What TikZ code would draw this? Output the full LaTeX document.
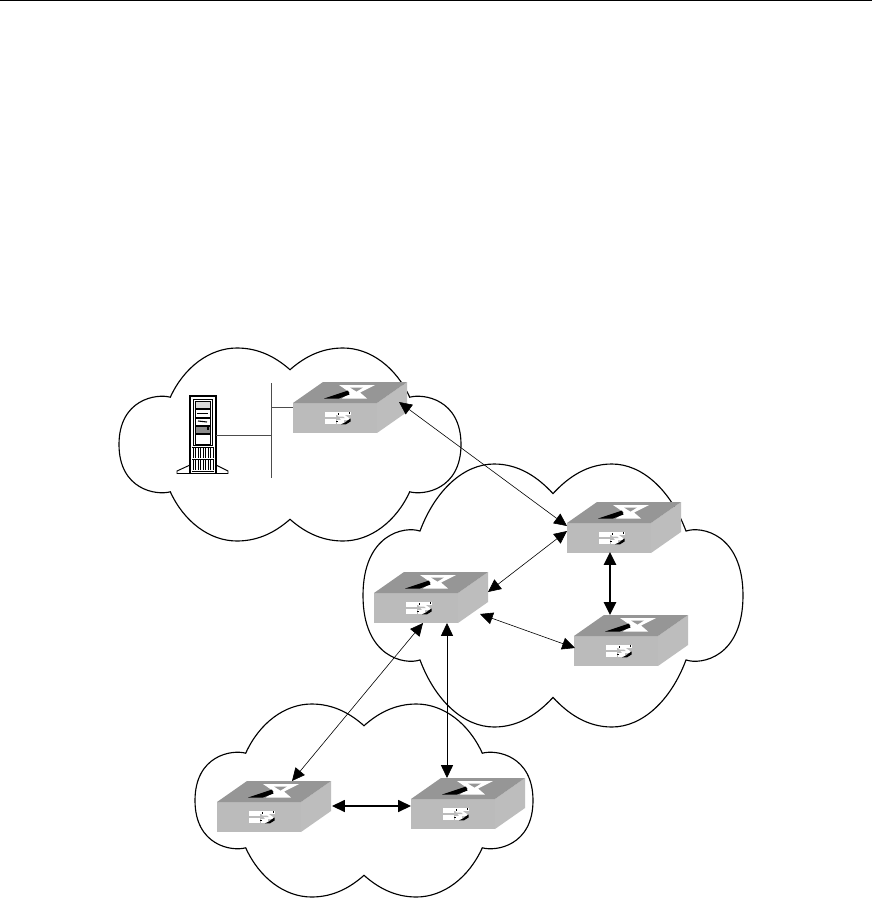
\documentclass[tikz,border=0pt]{standalone}
\usetikzlibrary{arrows.meta,calc}
\definecolor{swtop}{HTML}{969696}
\definecolor{swfront}{HTML}{BBBBBB}
\definecolor{swside}{HTML}{BDBDBD}
\tikzset{
  cloudline/.style={line width=0.85pt,black},
  link/.style={line width=0.45pt,{Triangle[length=9.6pt,width=9pt]}-{Triangle[length=9.6pt,width=9pt]}},
  midlink/.style={link,line width=0.85pt},
  thicklink/.style={link,line width=1.7pt},
  busline/.style={line width=0.55pt,black!70},
  swbox/.style={inner sep=0pt,minimum width=85.5pt,minimum height=38.25pt},
}
% \cloudshape{cx}{cy}{half width}{half height}
\newcommand{\cloudshape}[4]{%
  \begin{scope}[shift={(#1,#2)},x=#3*0.75pt,y=-#4*0.75pt]
    \draw[cloudline,line join=miter]
      (-.70,-.49) .. controls (-.62,-.80) and (-.47,-1) .. (-.31,-1)
      .. controls (-.18,-1) and (-.08,-.90) .. (0,-.775)
      .. controls (.08,-.90) and (.18,-1) .. (.31,-1)
      .. controls (.47,-1) and (.62,-.80) .. (.70,-.49)
      .. controls (.78,-.53) and (1,-.47) .. (1,0)
      .. controls (1,.47) and (.78,.53) .. (.70,.49)
      .. controls (.62,.80) and (.47,1) .. (.31,1)
      .. controls (.18,1) and (.08,.90) .. (0,.775)
      .. controls (-.08,.90) and (-.18,1) .. (-.31,1)
      .. controls (-.47,1) and (-.62,.80) .. (-.70,.49)
      .. controls (-.78,.53) and (-1,.47) .. (-1,0)
      .. controls (-1,-.47) and (-.78,-.53) .. (-.70,-.49) -- cycle;
  \end{scope}}
% \switchbox{name}{x of front top-left}{y of front top-left}
\newcommand{\switchbox}[3]{%
  \node[swbox] (#1) at (#2+57,#3+4.5) {};
  \begin{scope}[shift={(#2,#3)}]
    \fill[swfront] (0,0) rectangle (84,30);
    \fill[swside] (84,0) -- (114,-21) -- (114,9) -- (84,30) -- cycle;
    \fill[swtop] (0,0) -- (30,-21) -- (114,-21) -- (84,0) -- cycle;
    % top emblem
    \fill[white] (46,-18) -- (82,-18) -- (67,-10.5) -- (74,-4.5) -- (49,-4.5) -- (57,-10.5) -- cycle;
    \fill[swtop] (57,-15.5) -- (70,-15.5) -- (63.5,-11.5) -- cycle;
    \fill[black] (31,-4.5) -- (55,-12.5) -- (56.5,-8.5) -- (46,-4.5) -- cycle;
    % front emblem
    \fill[white] (32,8.5) rectangle (43,13.5);
    \fill[white] (32,15.5) rectangle (43,21);
    \fill[white] (43,8.5) rectangle (57.5,11.5);
    \fill[white] (44,11.5) -- (51,11.5) -- (56,15) -- (56,17) -- (48,17) -- cycle;
    \fill[white] (44,17) rectangle (51,21);
    \fill[swfront] (45,13.5) -- (50,13.5) -- (52,15.2) -- (46,15.2) -- cycle;
    \fill[black] (48,21.3) -- (53,21.3) -- (57.5,18.5) -- (57.5,15.5) -- (54.5,17.5) -- (52,19.5) -- cycle;
    \fill[black] (55.5,9) rectangle (57,10.5);
    \fill[black] (44.5,10) rectangle (46,11.5);
    \fill[black] (43,17.5) rectangle (44.5,19);
  \end{scope}}
\begin{document}
\begin{tikzpicture}[x=0.75pt,y=-0.75pt]
\useasboundingbox (0,0) rectangle (872,906);
\fill[white] (0,0) rectangle (872,906);
% header rule
\fill[black] (0,0) rectangle (872,1.3);
% clouds
\cloudshape{290}{444.5}{171}{96.5}
\cloudshape{553}{595.5}{190}{131.5}
\cloudshape{364}{800.5}{169}{96.5}
% bus and stubs
\coordinate (bustop) at (271,383);
\coordinate (busbot) at (271,478);
\coordinate (busa) at (271,407);
\coordinate (busb) at (271,435);
\draw[busline] (bustop) -- (busbot);
% server
\begin{scope}
  \draw[line width=0.7pt,fill=white] (190,465) -- (177,471) -- (177,473.5) -- (228,473.5) -- (228,471) -- (216,465) -- cycle;
  \draw[line width=0.8pt,fill=white] (190,396) rectangle (216,473.5);
  \draw[line width=0.6pt] (193,399.5) rectangle (212.5,445);
  \draw[line width=0.4pt,fill=black!15] (195,401) rectangle (210,408);
  \draw[line width=0.5pt] (195,409.5) rectangle (210,417);
  \draw[line width=0.5pt] (197,413) -- (208,413);
  \draw[line width=0.5pt] (195,418.5) rectangle (210,425);
  \draw[line width=0.8pt] (198,421) -- (207,422);
  \draw[line width=0.5pt,fill=black!45] (195,426) rectangle (210,433);
  \fill[black] (207,427) rectangle (209,430);
  \draw[line width=0.5pt] (195,434) rectangle (210,444);
  \foreach \gx in {193,195.5,...,213}{
    \draw[line width=0.4pt] (\gx,448) -- (\gx,458);
    \draw[line width=0.4pt] (\gx,460) -- (\gx,470);
  }
  \draw[line width=0.4pt] (192,447) -- (214,447) (192,459) -- (214,459) (192,471) -- (214,471);
  \node[inner sep=0pt,minimum width=19.5pt,minimum height=58pt] (server) at (203,434.75) {};
\end{scope}
% switches
\switchbox{sa}{293}{403}
\switchbox{sb}{567}{523}
\switchbox{sc}{574}{636}
\switchbox{sd}{374}{593}
\switchbox{se}{217}{802}
\switchbox{sf}{411}{799}
% wired links
\draw[busline] (server.east |- busb) -- (busb);
\draw[busline] (busa) -- (sa.west |- busa);
% arrows
\draw[link] ($(sa)+(49,-5.5)$) -- ($(sb)+(-57,-1.5)$);
\draw[link] ($(sb)+(-57,3.5)$) -- ($(sd)+(57,-5.5)$);
\draw[thicklink] ($(sb)+(-14,24.5)$) -- ($(sc)+(-21,-25.5)$);
\draw[link] ($(sd)+(49,16.5)$) -- ($(sc)+(-56,7.5)$);
\draw[link] ($(sd)+(-8,25.5)$) -- ($(se)+(18,-25.5)$);
\draw[link,line width=0.6pt] ($(sd)+(16,25.5)$) -- ($(sf)+(-21,-25.5)$);
\draw[midlink] ($(se)+(58,-.5)$) -- ($(sf)+(-57,2.5)$);
\end{tikzpicture}
\end{document}
